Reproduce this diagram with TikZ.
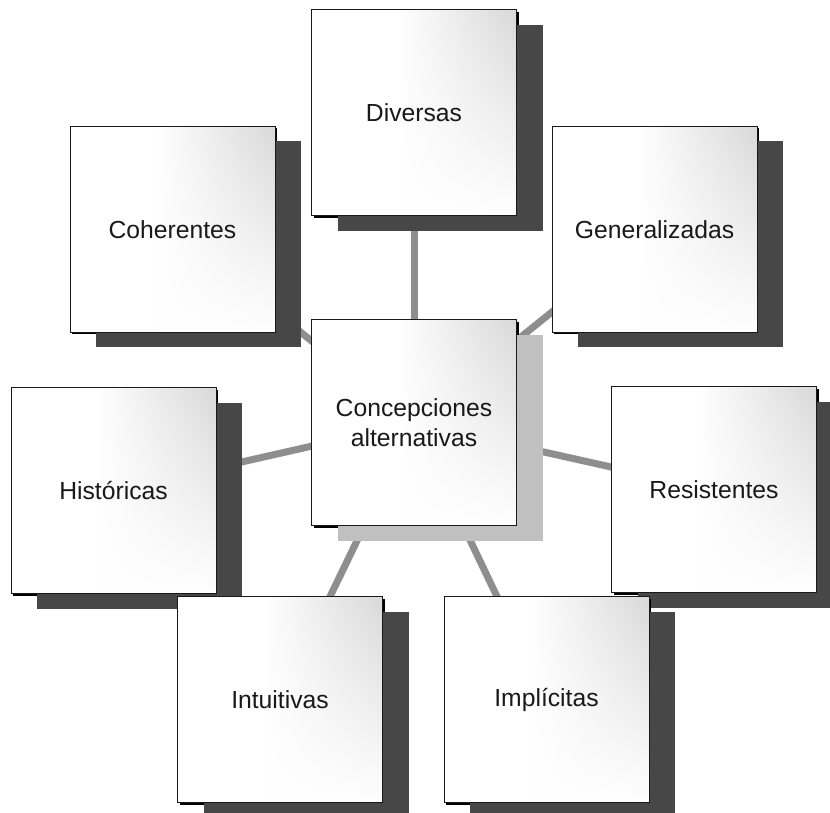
\documentclass[tikz,border=0pt]{standalone}
\usepackage{fontspec}
\setmainfont{Liberation Sans}
\usepackage{tikz}
\usetikzlibrary{shadows,backgrounds,fadings}

\definecolor{shadowdark}{HTML}{474747}
\definecolor{shadowlight}{HTML}{C0C0C0}
\definecolor{linkgray}{HTML}{8E8E8E}
\pgfdeclarehorizontalshading{boxfade}{100bp}{color(0bp)=(white); color(46bp)=(white);
  color(75bp)=(black!15); color(100bp)=(black!15)}

\begin{document}
\begin{tikzpicture}[x=1pt, y=1pt,
  concept/.style={draw=black!90, line width=1pt, minimum width=205pt, minimum height=206pt,
    inner sep=0pt, align=center, text=black!90, font=\fontsize{24.7}{30}\selectfont, fill=white,
    path picture={
      \shade[shading=boxfade]
        (path picture bounding box.south west) rectangle (path picture bounding box.north east);
      \fill[white, path fading=north]
        (path picture bounding box.south west) rectangle (path picture bounding box.north east);}},
  darkshade/.style={general shadow={shadow xshift=2pt, shadow yshift=-2pt, fill=black},
    general shadow={shadow xshift=26pt, shadow yshift=-15pt, fill=shadowdark}},
  lightshade/.style={general shadow={shadow xshift=2pt, shadow yshift=-2pt, fill=black},
    general shadow={shadow xshift=26pt, shadow yshift=-15pt, fill=shadowlight}},
  link/.style={draw=linkgray, line width=7pt}]
  \useasboundingbox (0,0) rectangle (830,813);

  \node[concept, lightshade] (hub) at (414,390) {Concepciones\\alternativas};
  \node[concept, darkshade] (div) at (414,700) {Diversas};
  \node[concept, darkshade] (coh) at (172.5,583.5) {Coherentes};
  \node[concept, darkshade] (gen) at (654.5,583.5) {Generalizadas};
  \node[concept, darkshade] (his) at (113.5,322) {Históricas};
  \node[concept, darkshade] (res) at (714,323) {Resistentes};
  \node[concept, darkshade] (int) at (280,113) {Intuitivas};
  \node[concept, darkshade] (imp) at (546.5,113) {Implícitas};

  \begin{scope}[on background layer]
    \draw[link] (hub.center) -- (div.center);
    \draw[link] (hub.center) -- (coh.center);
    \draw[link] (hub.center) -- (gen.center);
    \draw[link] (hub.center) -- (his.center);
    \draw[link] (hub.center) -- (res.center);
    \draw[link] (hub.center) -- (int.center);
    \draw[link] (hub.center) -- (imp.center);
  \end{scope}
\end{tikzpicture}
\end{document}
